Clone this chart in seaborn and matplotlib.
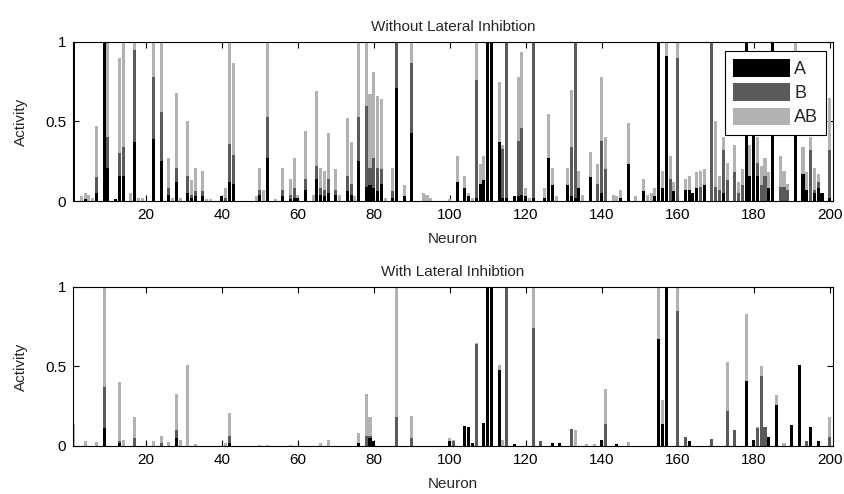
import numpy as np
import pandas as pd
import matplotlib
matplotlib.use("Agg")
import matplotlib.pyplot as plt
import seaborn as sns
from matplotlib.patches import Patch

# ---------------- data (visible bar heights per neuron; unlisted neurons = 0) ----------------
top_neuron = [1, 3, 4, 5, 6, 7, 9, 10, 12, 13, 14, 16, 17, 18, 19, 22, 24, 26, 27, 28, 29, 31, 32, 33, 35, 36, 37,
              40, 41, 42, 43, 49, 50, 51, 52, 54, 56, 58, 59, 60, 62, 64, 65, 66, 67, 68, 70, 71, 73, 74, 75, 76,
              78, 79, 80, 81, 82, 83, 85, 86, 88, 90, 93, 94, 95, 100, 102, 104, 105, 106, 107, 108, 109, 110,
              111, 113, 114, 115, 117, 118, 119, 120, 121, 122, 125, 126, 127, 128, 131, 132, 133, 134, 135,
              137, 139, 140, 141, 143, 144, 145, 147, 149, 151, 152, 153, 154, 155, 156, 157, 158, 159, 160,
              162, 163, 164, 165, 166, 167, 169, 170, 171, 172, 173, 175, 176, 177, 178, 179, 180, 181, 182,
              183, 184, 185, 187, 188, 189, 191, 193, 194, 195, 196, 197, 198, 200]
top_A = [1, 0, .01, 0, 0, .05, 1, .21, .01, .16, .16, 0, .37, 0, 0, .39, .25, .04, 0, .12, 0, .05, .02, .03, .03, 0, 0,
         .03, 0, .12, .11, 0, .04, 0, .27, 0, .03, .01, .02, .02, .07, 0, .14, .04, .03, .05, .04, 0, .06, .04, 0, .25,
         .09, .10, .08, .06, .11, 0, .02, .71, .03, .43, 0, 0, 0, 0, .12, .08, .03, 0, .02, .11, .13, 1,
         1, .37, .02, .02, .03, .03, .04, .03, 0, .02, .02, .27, .10, 0, .10, .03, .02, .08, 0,
         .15, 0, .05, 0, 0, 0, .02, .23, 0, .06, 0, 0, .03, 1, .08, .91, 0, .06, 0,
         .07, .07, .05, .08, 0, .10, 0, 0, 0, .05, 0, 0, 0, 0, 1, .16, .80, .16, 0,
         0, .08, 1, 0, 0, 0, .50, .17, .07, 0, .05, .08, .05, .02]
top_B = [1, 0, 0, 0, 0, .15, 1, .40, 0, .30, .34, 0, .95, 0, 0, .78, .56, .08, 0, .21, 0, .16, .04, .06, .06, 0, 0,
         0, .02, .36, .29, 0, .07, 0, .53, 0, .07, .04, .08, 0, .14, 0, .22, .08, .07, .14, .07, 0, .16, .11, 0, .53,
         .60, .21, .27, .21, .20, 0, .06, 1, 0, .87, 0, 0, 0, 0, .12, .08, 0, 0, .76, .11, 0, 1,
         1, .37, .33, 1, 0, .38, .46, 0, 0, 1, 0, .27, 0, 0, 0, .34, 1, 0, 0,
         0, .11, .38, .20, 0, 0, 0, 0, 0, 0, 0, 0, 0, 1, 0, .91, .14, 0, .90,
         0, 0, 0, 0, .09, 0, 1, .09, .07, .32, .13, .18, .05, .10, 1, 0, 0, .24, .10,
         .16, 0, 1, .09, .09, .07, 0, .17, 0, .32, .07, .12, 0, .32]
top_AB = [1, .03, .05, .04, .02, .47, 1, 1, .01, .90, 1, .05, 1, .02, .02, 1, 1, .27, .02, .68, .02, .50, .13, .21, .19, .01, .01,
          .03, .08, 1, .87, .03, .21, .07, 1, .01, .21, .14, .27, .04, .44, .04, .69, .21, .19, .43, .20, .04, .52, .37, .03, 1,
          1, .67, .81, .66, .64, .02, .21, 1, .10, 1, .05, .04, .02, .01, .28, .16, .05, .02, 1, .23, .28, 1,
          1, .75, .35, 1, .03, .78, .94, .08, .02, 1, .08, .55, .21, .03, .21, .70, 1, .19, .04,
          .31, .23, .78, .40, .04, .03, .07, .49, .03, .14, .04, .05, .08, 1, .19, 1, .28, .12, 1,
          .14, .16, .05, .18, .19, .20, 1, .50, .16, .40, .24, .35, .12, .20, 1, .35, .80, .40, .22,
          .27, .18, 1, .28, .19, .11, 1, .34, .18, .40, .21, .17, .05, .65]

bot_neuron = [1, 4, 7, 9, 13, 14, 17, 22, 24, 26, 28, 29, 31, 33, 41, 42, 50, 52, 58, 66, 68, 76, 78, 79, 80,
              86, 90, 100, 101, 104, 105, 106, 107, 109, 110, 111, 113, 114, 115, 117, 122, 124, 127, 129,
              132, 133, 136, 138, 140, 141, 144, 147, 155, 156, 157, 160, 162, 163, 169, 173, 175, 178, 180,
              181, 182, 183, 184, 186, 188, 190, 192, 194, 195, 197, 200]
bot_A = [0, 0, 0, .11, .02, 0, 0, 0, 0, 0, .05, 0, 0, 0, 0, .02, 0, 0, 0, 0, 0, .02, 0, .05, .03,
         0, 0, .03, 0, .125, .12, .02, 0, .145, 1, 1, .48, 0, 0, .015, 0, 0, .02, .02,
         0, 0, 0, 0, .04, 0, .015, 0, .67, .14, 1, 0, 0, .03, 0, 0, 0, .41, .04,
         0, 0, 0, .057, .26, 0, .13, .51, 0, .12, .03, 0]
bot_B = [0, 0, 0, .37, .03, 0, .05, 0, .02, 0, .10, 0, 0, 0, 0, .06, 0, 0, 0, 0, 0, 0, .06, .06, 0,
         .18, .05, 0, .03, 0, 0, 0, .64, 0, 0, 0, 0, 0, 1, 0, .74, .03, 0, 0,
         .105, 0, 0, 0, 0, .14, 0, 0, 0, 0, 0, .85, .057, 0, .045, .22, .10, 0, 0,
         .11, .44, .12, 0, 0, 0, 0, 0, .03, 0, 0, .057]
bot_AB = [.14, .03, .025, 1, .40, .035, .18, .03, .06, .025, .33, .035, .51, .015, .02, .21, .005, .005, .005, .02, .035, .08, .33, .18, .03,
          1, .19, .05, .035, .125, .12, .02, .65, .145, 1, 1, .51, .035, 1, .015, 1, .03, .02, .02,
          .105, .10, .01, .015, .04, .36, .015, .025, 1, .29, 1, 1, .057, .03, .045, .53, .10, .83, .04,
          .12, .50, .12, .057, .32, .02, .13, .51, .03, .12, .03, .18]

series_names = ["A", "B", "AB"]
titles = ["Without Lateral Inhibtion", "With Lateral Inhibtion"]
x_ticks = [20, 40, 60, 80, 100, 120, 140, 160, 180, 200]
y_ticks = [0, 0.5, 1]
y_ticklabels = ["0", "0.5", "1"]

# ---------------- style ----------------
sns.set_theme(style="white")
plt.rcParams["font.family"] = ["Liberation Sans", "DejaVu Sans"]
plt.rcParams["font.size"] = 11

colors = {"A": "#000000", "B": "#5a5a5a", "AB": "#b2b2b2"}


def make_frame(neuron, a, b, ab):
    df = pd.DataFrame({"Neuron": neuron, "A": a, "B": b, "AB": ab}).set_index("Neuron")
    df = df.reindex(range(1, 201), fill_value=0).reset_index()
    return df


def draw(ax, df, title):
    for col in ["AB", "B", "A"]:
        sns.barplot(data=df, x="Neuron", y=col, native_scale=True, color=colors[col],
                    saturation=1, errorbar=None, width=0.8, linewidth=0,
                    edgecolor="none", ax=ax)
    ax.set_xlim(0.8, 200.9)
    ax.set_ylim(0, 1)
    ax.set_xticks(x_ticks)
    ax.set_xticklabels([str(t) for t in x_ticks])
    ax.set_yticks(y_ticks)
    ax.set_yticklabels(y_ticklabels)
    ax.set_xlabel("Neuron", fontsize=11, labelpad=7)
    ax.set_ylabel("Activity", fontsize=11, labelpad=12)
    ax.set_title(title, fontsize=11, pad=8)
    ax.tick_params(direction="in", length=4, width=0.8, top=True, right=True,
                   bottom=True, left=True, labelsize=11, colors="black", pad=5)
    for sp in ax.spines.values():
        sp.set_visible(True)
        sp.set_color("black")
        sp.set_linewidth(0.8)


fig = plt.figure(figsize=(8.45, 4.94), dpi=100)
ax1 = fig.add_axes([0.0864, 0.5931, 0.8994, 0.3219])
ax2 = fig.add_axes([0.0864, 0.0972, 0.8994, 0.3219])

draw(ax1, make_frame(top_neuron, top_A, top_B, top_AB), titles[0])
draw(ax2, make_frame(bot_neuron, bot_A, bot_B, bot_AB), titles[1])

handles = [Patch(facecolor=colors[n], edgecolor="none", label=n) for n in series_names]
leg = ax1.legend(handles=handles, loc="upper right", bbox_to_anchor=(0.991, 0.943),
                 borderaxespad=0, fontsize=13, handlelength=3.15, handleheight=1.1,
                 labelspacing=0.3, handletextpad=0.25, borderpad=0.45,
                 fancybox=False, framealpha=1, facecolor="white", edgecolor="black")
leg.get_frame().set_linewidth(0.8)

fig.savefig("out.png", dpi=100)
